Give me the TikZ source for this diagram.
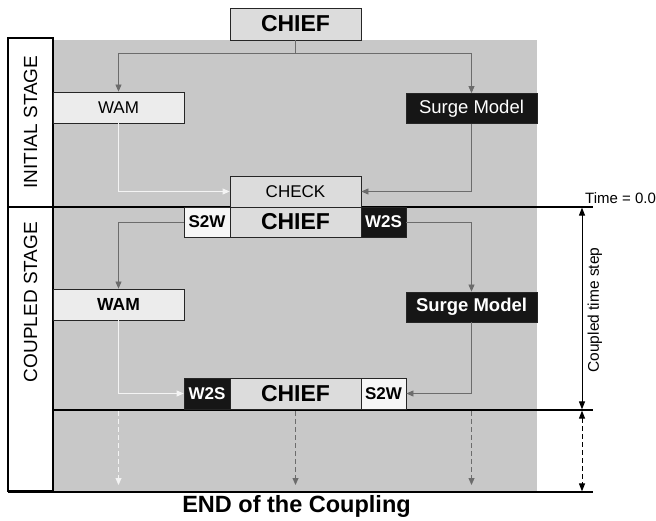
\documentclass[tikz,border=0pt]{standalone}
\usepackage{fontspec}
\setmainfont{Liberation Sans}
\usetikzlibrary{arrows.meta}
\definecolor{bggray}{HTML}{C8C8C8}
\definecolor{chieffill}{HTML}{DCDCDC}
\definecolor{wamfill}{HTML}{ECECEC}
\definecolor{swfill}{HTML}{F6F6F6}
\definecolor{darkbox}{HTML}{161616}
\definecolor{arrgray}{HTML}{6C6C6C}
\definecolor{arrwhite}{HTML}{F4F4F4}
\tikzset{
  box/.style={draw=black!85, line width=0.8pt, inner sep=0pt, text=black},
  chiefbox/.style={box, fill=chieffill, font=\fontsize{23}{23}\selectfont\bfseries},
  lightbox/.style={box, fill=wamfill, font=\fontsize{17}{17}\selectfont},
  darkmodel/.style={box, fill=darkbox, text=white, font=\fontsize{18.5}{18.5}\selectfont},
  swbox/.style={box, fill=swfill, font=\fontsize{17}{17}\selectfont\bfseries},
  wsbox/.style={box, fill=darkbox, text=white, font=\fontsize{17}{17}\selectfont\bfseries},
  stagebox/.style={draw=black, line width=1.2pt, fill=white},
  stagetext/.style={rotate=90, font=\fontsize{19}{19}\selectfont},
  garrow/.style={draw=arrgray, line width=0.8pt, -{Triangle[length=7pt,width=6pt]}},
  garrowline/.style={draw=arrgray, line width=0.8pt},
  warrow/.style={draw=arrwhite, line width=0.8pt, -{Triangle[length=7pt,width=6pt]}},
  timeline/.style={draw=black, line width=1.3pt},
  dimarrow/.style={draw=black, line width=1pt, {Triangle[length=8pt,width=6pt]}-{Triangle[length=8pt,width=6pt]}},
}
\begin{document}
\begin{tikzpicture}[x=1pt,y=-1pt]
\useasboundingbox (0,0) rectangle (656,521);
% background
\fill[bggray] (53,40) rectangle (537,491);
% stage columns
\draw[stagebox] (8,38) rectangle (53,207);
\draw[stagebox] (8,207) rectangle (53,491);
\node[stagetext] (initial) at (30.5,122) {INITIAL STAGE};
\node[stagetext] (coupled) at (30.5,302) {COUPLED STAGE};

% time lines
\coordinate (t0l) at (8,207);
\coordinate (t0r) at (593,207);
\coordinate (t1l) at (53,410);
\coordinate (t1r) at (593,410);
\coordinate (t2l) at (8,492);
\coordinate (t2r) at (593,492);
\draw[timeline] (t0l) -- (t0r);
\draw[timeline] (t1l) -- (t1r);
\draw[timeline] (t2l) -- (t2r);

% nodes
\node[chiefbox, minimum width=131pt, minimum height=32pt] (chief0) at (295.5,24) {CHIEF};
\node[lightbox, minimum width=131pt, minimum height=31pt] (wam1) at (118.5,107.5) {WAM};
\node[darkmodel, minimum width=131pt, minimum height=30pt] (surge1) at (471.5,108.5) {Surge Model};
\node[lightbox, fill=chieffill, minimum width=131pt, minimum height=31pt] (check) at (295.5,191.5) {CHECK};

\node[swbox, minimum width=46pt, minimum height=30pt] (s2wa) at (207,222) {S2W};
\node[chiefbox, minimum width=131pt, minimum height=30pt] (chief1) at (295.5,222) {CHIEF};
\node[wsbox, minimum width=45pt, minimum height=30pt] (w2sa) at (383.5,222) {W2S};

\node[lightbox, font=\fontsize{17.5}{17.5}\selectfont\bfseries, minimum width=131pt, minimum height=31pt] (wam2) at (118.5,304.5) {WAM};
\node[darkmodel, font=\fontsize{18.5}{18.5}\selectfont\bfseries, minimum width=131pt, minimum height=30pt] (surge2) at (471.5,307) {Surge Model};

\node[wsbox, minimum width=46pt, minimum height=31pt] (w2sb) at (207,393.5) {W2S};
\node[chiefbox, minimum width=131pt, minimum height=31pt] (chief2) at (295.5,393.5) {CHIEF};
\node[swbox, minimum width=45pt, minimum height=31pt] (s2wb) at (383.5,393.5) {S2W};

% connectors, initial stage
\coordinate (split) at (295.5,53);
\draw[garrowline] (chief0.south) -- (split);
\draw[garrow] (split) -| (wam1.north);
\draw[garrow] (split) -| (surge1.north);
\draw[warrow] (wam1.south) |- (check.west);
\draw[garrow] (surge1.south) |- (check.east);

% coupled stage
\draw[garrow] (s2wa.west) -| (wam2.north);
\draw[garrow] (w2sa.east) -| (surge2.north);
\draw[warrow] (wam2.south) |- (w2sb.west);
\draw[garrow] (surge2.south) |- (s2wb.east);

% dashed continuation
\coordinate (d1s) at (118.5,411);
\coordinate (d1e) at (118.5,485);
\coordinate (d2s) at (295.5,411);
\coordinate (d2e) at (295.5,485);
\coordinate (d3s) at (471.5,411);
\coordinate (d3e) at (471.5,485);
\draw[warrow, dash pattern=on 5pt off 3pt] (d1s) -- (d1e);
\draw[garrow, dash pattern=on 5pt off 3pt] (d2s) -- (d2e);
\draw[garrow, dash pattern=on 5pt off 3pt] (d3s) -- (d3e);

% right dimension arrows
\coordinate (ra) at (582,207.6);
\coordinate (rb) at (582,409.4);
\coordinate (rc) at (582,410.6);
\coordinate (rd) at (582,491.4);
\draw[dimarrow] (ra) -- (rb);
\draw[dimarrow, dash pattern=on 5pt off 3pt] (rc) -- (rd);
\node[anchor=south west, inner sep=0pt, font=\fontsize{15}{15}\selectfont] (time) at (585,204) {Time = 0.0};
\node[rotate=90, anchor=north, inner sep=0pt, font=\fontsize{15.5}{15.5}\selectfont] (cts) at (587.5,310) {Coupled time step};

% end label
\node[font=\fontsize{23.5}{23.5}\selectfont\bfseries] (endlbl) at (296.5,506) {END of the Coupling};
\end{tikzpicture}
\end{document}
